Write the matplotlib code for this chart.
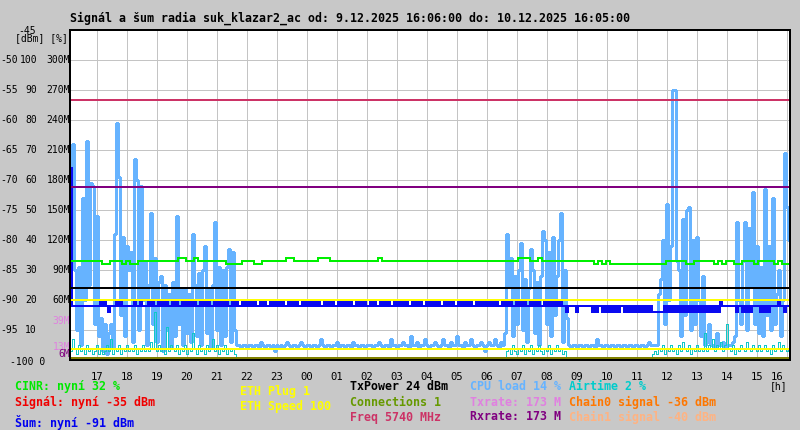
#!/usr/bin/env python3
"""
Signal and noise of radio suk_klazar2_ac, 24 h graph (rrd-style look)
"""

import matplotlib
matplotlib.use('Agg')
import matplotlib.pyplot as plt
import matplotlib.transforms as mtransforms
import numpy as np

# ---- data -------------------------------------------------------------
# samples every 4 minutes starting 9.12.2025 16:06, one row = one hour
SAMPLE_MIN = 4

cpu_load = [
    60, 72, 30, 10, 31, 5, 54, 20, 73, 25, 59, 58, 12, 48, 8,
    14, 3, 12, 2, 9, 12, 4, 42, 79, 61, 15, 41, 8, 38, 30,
    36, 6, 67, 60, 10, 58, 20, 33, 5, 25, 49, 12, 34, 6, 26,
    28, 3, 25, 10, 22, 4, 26, 8, 48, 12, 24, 5, 24, 9, 22,
    6, 42, 25, 8, 29, 5, 30, 38, 9, 24, 4, 25, 46, 10, 31,
    5, 30, 8, 31, 37, 6, 36, 10, 5, 5, 4, 5, 5, 4, 5,
    5, 4, 5, 5, 4, 6, 5, 4, 5, 5, 4, 5, 3, 5, 4,
    5, 4, 5, 6, 5, 4, 5, 5, 4, 5, 6, 5, 4, 5, 5,
    4, 5, 5, 4, 5, 7, 5, 4, 5, 5, 4, 5, 5, 6, 4,
    5, 5, 4, 5, 5, 4, 6, 5, 5, 4, 5, 5, 4, 5, 5,
    5, 4, 5, 5, 6, 5, 4, 5, 5, 4, 7, 5, 5, 4, 5,
    5, 6, 5, 5, 4, 8, 5, 5, 6, 4, 5, 5, 7, 5, 4,
    5, 5, 6, 5, 4, 5, 7, 5, 5, 4, 6, 5, 5, 8, 5,
    5, 4, 6, 5, 5, 7, 5, 4, 5, 5, 6, 5, 3, 5, 6,
    5, 5, 7, 5, 4, 6, 5, 9, 42, 25, 34, 8, 28, 12, 30,
    39, 10, 27, 6, 24, 37, 30, 9, 26, 5, 28, 43, 40, 12, 36,
    8, 41, 15, 28, 40, 49, 6, 30, 14, 5, 4, 5, 5, 4, 5,
    5, 4, 5, 5, 4, 5, 5, 4, 7, 5, 5, 4, 5, 5, 4,
    5, 5, 4, 5, 5, 4, 5, 5, 4, 5, 5, 4, 5, 5, 4,
    5, 5, 4, 5, 6, 5, 5, 5, 5, 22, 27, 40, 12, 52, 20,
    38, 90, 90, 33, 30, 8, 47, 15, 50, 51, 10, 40, 12, 41, 20,
    8, 28, 5, 6, 12, 5, 5, 4, 9, 5, 5, 6, 4, 5, 5,
    5, 6, 8, 46, 20, 12, 33, 46, 10, 44, 25, 56, 12, 38, 9,
    31, 8, 57, 15, 38, 10, 54, 12, 22, 30, 8, 20, 69, 51, 40,
]

airtime = [
    3, 7, 4, 2, 5, 3, 4, 2, 5, 3, 4, 2, 3, 5, 2,
    4, 2, 3, 5, 3, 7, 2, 4, 3, 5, 2, 4, 3, 5, 3,
    4, 3, 5, 2, 4, 3, 5, 3, 4, 3, 6, 4, 16, 3, 5,
    3, 4, 2, 11, 3, 5, 4, 3, 5, 2, 4, 3, 5, 2, 4,
    3, 9, 4, 2, 5, 3, 4, 2, 5, 3, 4, 7, 3, 5, 2,
    4, 3, 5, 2, 4, 3, 4, 2, 1, 1, 1, 0, 1, 1, 0,
    1, 0, 1, 1, 0, 1, 0, 1, 1, 0, 1, 0, 1, 1, 0,
    0, 1, 0, 1, 1, 0, 1, 0, 0, 1, 0, 1, 1, 0, 1,
    1, 0, 1, 0, 1, 1, 0, 1, 0, 1, 1, 0, 1, 0, 1,
    0, 1, 1, 0, 1, 0, 1, 1, 0, 1, 0, 1, 0, 1, 1,
    1, 0, 1, 0, 1, 1, 0, 1, 0, 1, 1, 0, 1, 0, 1,
    0, 1, 0, 1, 1, 0, 1, 0, 1, 1, 0, 1, 0, 1, 0,
    1, 1, 0, 1, 0, 1, 1, 0, 1, 0, 1, 1, 0, 1, 0,
    0, 1, 0, 1, 0, 1, 1, 0, 1, 0, 1, 0, 1, 1, 0,
    0, 1, 0, 1, 1, 0, 1, 0, 3, 4, 2, 5, 3, 2, 4,
    3, 5, 2, 4, 3, 5, 2, 4, 3, 5, 3, 2, 4, 3, 5,
    2, 4, 3, 5, 3, 4, 2, 3, 1, 0, 1, 0, 1, 0, 0,
    0, 1, 0, 0, 1, 0, 0, 1, 0, 0, 1, 0, 0, 1, 0,
    0, 0, 1, 0, 0, 1, 0, 0, 1, 0, 0, 1, 0, 0, 1,
    0, 1, 0, 1, 0, 1, 2, 3, 2, 4, 3, 5, 2, 4, 3,
    5, 3, 4, 2, 5, 3, 6, 4, 3, 5, 2, 4, 3, 5, 3,
    4, 3, 9, 3, 5, 4, 7, 3, 5, 4, 6, 3, 5, 12, 4,
    3, 5, 2, 4, 3, 5, 4, 3, 6, 4, 3, 5, 4, 3, 5,
    3, 4, 5, 3, 4, 2, 5, 3, 4, 6, 3, 5, 4, 3, 4,
]

noise_dbm = [
    -68, -91, -91, -91, -91, -91, -91, -91, -91, -91, -91, -91, -91, -91, -91,
    -90, -91, -90, -91, -92, -91, -91, -91, -90, -91, -90, -91, -91, -91, -91,
    -91, -91, -90, -91, -91, -90, -91, -91, -91, -90, -91, -90, -91, -91, -90,
    -91, -90, -91, -90, -91, -91, -90, -91, -90, -91, -91, -90, -91, -90, -91,
    -90, -91, -90, -91, -91, -90, -91, -90, -91, -90, -91, -91, -90, -91, -90,
    -91, -90, -91, -90, -91, -91, -90, -91, -90, -91, -91, -90, -91, -90, -91,
    -90, -91, -90, -91, -91, -90, -91, -90, -91, -91, -90, -91, -90, -91, -90,
    -91, -90, -91, -91, -90, -91, -90, -91, -90, -91, -91, -90, -91, -90, -91,
    -90, -91, -90, -91, -90, -91, -91, -90, -91, -90, -91, -90, -91, -91, -90,
    -91, -90, -91, -90, -91, -90, -91, -91, -90, -91, -90, -91, -90, -91, -91,
    -90, -91, -90, -91, -91, -90, -91, -90, -91, -90, -91, -91, -90, -91, -90,
    -91, -90, -91, -90, -91, -91, -90, -91, -90, -91, -90, -91, -91, -90, -91,
    -90, -91, -90, -91, -90, -91, -91, -90, -91, -90, -91, -90, -91, -91, -90,
    -91, -90, -91, -90, -91, -90, -91, -91, -90, -91, -90, -91, -90, -91, -90,
    -91, -90, -91, -90, -91, -91, -90, -91, -90, -91, -90, -91, -91, -90, -91,
    -90, -91, -90, -91, -91, -90, -91, -90, -91, -90, -91, -91, -90, -91, -90,
    -91, -90, -91, -90, -91, -90, -91, -91, -92, -91, -91, -91, -91, -92, -91,
    -91, -91, -91, -91, -91, -91, -92, -91, -92, -91, -91, -92, -91, -92, -91,
    -92, -91, -92, -91, -92, -91, -91, -92, -91, -92, -91, -92, -91, -92, -91,
    -92, -91, -92, -91, -92, -91, -92, -92, -92, -92, -92, -92, -91, -92, -91,
    -92, -91, -92, -91, -92, -91, -92, -91, -92, -91, -92, -91, -92, -91, -92,
    -91, -92, -91, -92, -91, -92, -91, -92, -91, -92, -90, -91, -91, -91, -91,
    -91, -91, -91, -92, -91, -91, -92, -91, -92, -91, -92, -91, -91, -91, -91,
    -92, -91, -92, -91, -92, -91, -91, -91, -91, -90, -91, -91, -92, -91, -91,
]

# CINR every 8 minutes, one row = two hours
CINR_MIN = 8
cinr = [
    33, 33, 33, 33, 33, 33, 33, 33, 32, 32, 33, 33, 33, 32, 33,
    32, 32, 33, 33, 33, 33, 33, 33, 33, 33, 33, 33, 34, 34, 33,
    33, 34, 33, 33, 33, 33, 33, 33, 33, 32, 32, 32, 32, 33, 33,
    33, 32, 32, 33, 33, 33, 33, 33, 33, 34, 34, 33, 33, 33, 33,
    33, 33, 34, 34, 34, 33, 33, 33, 33, 33, 33, 33, 33, 33, 33,
    33, 33, 34, 33, 33, 33, 33, 33, 33, 33, 33, 33, 33, 33, 33,
    33, 33, 33, 33, 33, 33, 33, 33, 33, 33, 33, 33, 33, 33, 33,
    33, 33, 33, 33, 33, 33, 33, 34, 34, 34, 33, 33, 34, 33, 33,
    33, 33, 33, 33, 33, 33, 33, 33, 33, 33, 33, 32, 33, 32, 33,
    32, 32, 32, 32, 32, 32, 32, 32, 32, 32, 32, 32, 32, 32, 33,
    33, 33, 33, 33, 32, 32, 33, 33, 33, 33, 33, 32, 33, 32, 33,
    33, 32, 32, 33, 33, 33, 32, 33, 33, 33, 33, 32, 33, 32, 32,
]

hour_labels = ['17', '18', '19', '20', '21', '22', '23', '00', '01', '02',
               '03', '04', '05', '06', '07', '08', '09', '10', '11', '12',
               '13', '14', '15', '16']
FIRST_HOUR_MIN = 54          # 17:00 is 54 min after 16:06

dbm_ticks = [-50, -55, -60, -65, -70, -75, -80, -85, -90, -95]
pct_ticks = [100, 90, 80, 70, 60, 50, 40, 30, 20, 10]
mbit_ticks = ['300M', '270M', '240M', '210M', '180M', '150M', '120M', '90M', '60M', '']

# constant lines (current values)
freq_level = -56.7           # Freq 5740 MHz line, read in dBm
rxrate = 173                 # M
txrate = 173                 # M
txpower = 24                 # % scale
eth_speed_level = -90.0      # dBm
eth_plug_level = -98.2       # dBm
connections_level = -99.6    # dBm

rate_marks = [('39M', 39, '#e080e0'), ('13M', 13, '#e080e0'), ('6M', 6, '#800080')]

legend_items = [
    ('CINR: nyní 32 %', 15, 386.5, '#00e800'),
    ('Signál: nyní -35 dBm', 15, 402, '#f00000'),
    ('Šum: nyní -91 dBm', 15, 422, '#0000f0'),
    ('ETH Plug 1', 240, 392, '#ffff00'),
    ('ETH Speed 100', 240, 406.5, '#ffff00'),
    ('TxPower 24 dBm', 350, 386.5, '#000000'),
    ('Connections 1', 350, 402, '#669900'),
    ('Freq 5740 MHz', 350, 417, '#cc3366'),
    ('CPU load 14 %', 470, 386.5, '#66b3ff'),
    ('Txrate: 173 M', 470, 402, '#e080e0'),
    ('Rxrate: 173 M', 470, 417, '#800080'),
    ('Airtime 2 %', 569, 386.5, '#00cccc'),
    ('Chain0 signal -36 dBm', 569, 402, '#ff7700'),
    ('Chain1 signal -40 dBm', 569, 417, '#ffb382'),
]

TITLE = 'Signál a šum radia suk_klazar2_ac od: 9.12.2025 16:06:00 do: 10.12.2025 16:05:00'


def pct_to_db(p):
    return -100 + np.asarray(p, dtype=float) * 0.5


def m_to_db(m):
    return -100 + np.asarray(m, dtype=float) / 6.0


def step_xy(values, step):
    t = np.arange(len(values) + 1) * step
    v = np.append(values, values[-1])
    return t, v


W, H = 800, 430
BG = '#c8c8c8'
SMALL = 7.0
BOLD = 8.4
PX = 0.72                     # one pixel in points at 100 dpi

plt.rcParams['font.family'] = ['DejaVu Sans Mono']

fig = plt.figure(figsize=(W / 100, H / 100), dpi=100, facecolor=BG)
ax = fig.add_axes([70 / W, 1 - 360 / H, 720 / W, 330 / H])
ax.set_facecolor('white')

ax.set_xlim(0, 1440)
ax.set_ylim(-100, -45)

# grid
for y in dbm_ticks:
    ax.axhline(y, color='#c4c4c4', lw=PX, zorder=0.5, antialiased=False)
hour_pos = FIRST_HOUR_MIN + 60 * np.arange(len(hour_labels))
for x in hour_pos:
    ax.axvline(x, color='#c4c4c4', lw=PX, zorder=0.5, antialiased=False)

# series
step_kw = dict(drawstyle='steps-post', antialiased=False)

t, v = step_xy(cpu_load, SAMPLE_MIN)
ax.plot(t, pct_to_db(v), color='#66b3ff', lw=1.4 * PX, zorder=2, **step_kw)

t, v = step_xy(airtime, SAMPLE_MIN)
ax.plot(t, pct_to_db(v), color='#10c8c8', lw=PX, zorder=3, **step_kw)

t, v = step_xy(noise_dbm, SAMPLE_MIN)
ax.plot(t, v, color='#0a0af0', lw=2 * PX, zorder=4, **step_kw)

t, v = step_xy(cinr, CINR_MIN)
ax.plot(t, pct_to_db(v), color='#00f000', lw=2 * PX, zorder=5, **step_kw)

# constant lines
hl_kw = dict(lw=2 * PX, zorder=6, antialiased=False)
ax.axhline(freq_level, color='#cc3366', **hl_kw)
ax.axhline(m_to_db(txrate), color='#e080e0', **hl_kw)
ax.axhline(m_to_db(rxrate), color='#800080', **hl_kw)
ax.axhline(pct_to_db(txpower), color='black', **hl_kw)
ax.axhline(eth_speed_level, color='#ffff00', **hl_kw)
ax.axhline(eth_plug_level, color='#ffff00', **hl_kw)
ax.axhline(connections_level, color='#808000', **hl_kw)

for s in ax.spines.values():
    s.set_color('black')
    s.set_linewidth(2 * PX)
    s.set_zorder(10)

# x ticks (hours)
ax.set_yticks([])
ax.set_xticks(hour_pos)
ax.set_xticklabels(hour_labels, fontsize=7.6)
ax.tick_params(axis='x', length=0, pad=9)
last = ax.get_xticklabels()[-1]
last.set_transform(last.get_transform() +
                   mtransforms.ScaledTranslation(-0.10, 0, fig.dpi_scale_trans))

# left y labels: dBm, %, M columns
ytr = ax.get_yaxis_transform()


def ax_x(px):
    return (px - 70) / 720.0


for d, p, m in zip(dbm_ticks, pct_ticks, mbit_ticks):
    ax.text(ax_x(0), d, str(d), transform=ytr, ha='left', va='center',
            fontsize=SMALL, clip_on=False)
    ax.text(ax_x(37), d, str(p), transform=ytr, ha='right', va='center',
            fontsize=SMALL, clip_on=False)
    if m:
        ax.text(ax_x(70), d, m, transform=ytr, ha='right', va='center',
                fontsize=SMALL, clip_on=False)

for lbl, val, col in rate_marks:
    ax.text(ax_x(70), float(m_to_db(val)), lbl, transform=ytr, ha='right',
            va='center', fontsize=SMALL, color=col, clip_on=False)


def fig_text(px, py, s, **kw):
    fig.text(px / W, 1 - py / H, s, **kw)


fig_text(10, 362, '-100 0', ha='left', va='center', fontsize=SMALL)
fig_text(18, 31, '-45', ha='left', va='center', fontsize=SMALL)
fig_text(15, 38, '[dBm] [%]', ha='left', va='center', fontsize=SMALL)
fig_text(770, 386.5, '[h]', ha='left', va='center', fontsize=SMALL)

fig_text(70, 18, TITLE, ha='left', va='center', fontsize=BOLD, fontweight='bold')

for s, px, py, col in legend_items:
    fig_text(px, py, s, ha='left', va='center', fontsize=BOLD,
             fontweight='bold', color=col)

fig.savefig('out.png', dpi=100, facecolor=BG)
